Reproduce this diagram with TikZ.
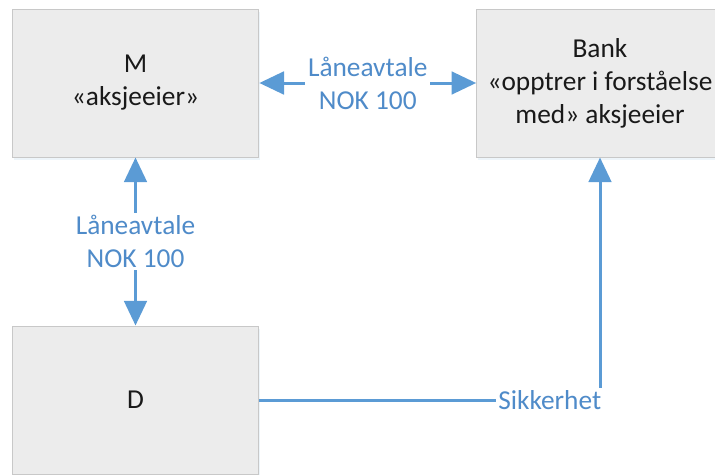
\documentclass[tikz,border=0pt]{standalone}
\usepackage{fontspec}
\setmainfont{Carlito}
\usepackage{xcolor}
\usepackage{tikz}
\usetikzlibrary{arrows.meta}
\usetikzlibrary{shadows}
\pgfdeclarelayer{nodelayer}
\pgfdeclarelayer{edgelayer}
\pgfsetlayers{nodelayer,edgelayer,main}

\definecolor{boxfill}{RGB}{236,236,236}
\definecolor{boxline}{RGB}{200,200,200}
\definecolor{linkblue}{RGB}{91,155,213}
\definecolor{labelblue}{RGB}{79,139,201}

\tikzset{
  party/.style={draw=boxline, fill=boxfill, line width=0.75pt,
    minimum width=185pt, minimum height=111pt, align=center,
    font=\fontsize{20.5}{24.75}\selectfont, text=black!90,
    drop shadow={shadow xshift=1pt, shadow yshift=-2pt, fill=linkblue!30, opacity=0.35}},
  link/.style={draw=linkblue, line width=2.25pt},
  tip/.style={-{Triangle[length=18.5pt, width=17pt]}},
  tips/.style={{Triangle[length=18.5pt, width=17pt]}-{Triangle[length=18.5pt, width=17pt]}},
  linklabel/.style={fill=white, text=labelblue, align=center, inner sep=2pt,
    font=\fontsize{20.5}{24.75}\selectfont}
}

\begin{document}
\begin{tikzpicture}[x=0.75pt, y=-0.75pt]
  \useasboundingbox (0, 0) rectangle (715, 475);
  \begin{pgfonlayer}{nodelayer}
    \node [party] (0) at (135.5, 83) {M\\«aksjeeier»};
    \node [party] (1) at (600, 83) {Bank\\«opptrer i forståelse\\med» aksjeeier};
    \node [party] (2) at (135.5, 400) {D};
  \end{pgfonlayer}
  \begin{pgfonlayer}{edgelayer}
    \draw [link, tips] (0.east) to node [linklabel] {Låneavtale\\NOK 100} (1.west);
    \draw [link, tips] (0.south) to node [linklabel] {Låneavtale\\NOK 100} (2.north);
    \draw [link, tip] (2.east) -| node [linklabel, pos=0.5, anchor=east, xshift=4pt] {Sikkerhet} (1.south);
  \end{pgfonlayer}
\end{tikzpicture}
\end{document}
